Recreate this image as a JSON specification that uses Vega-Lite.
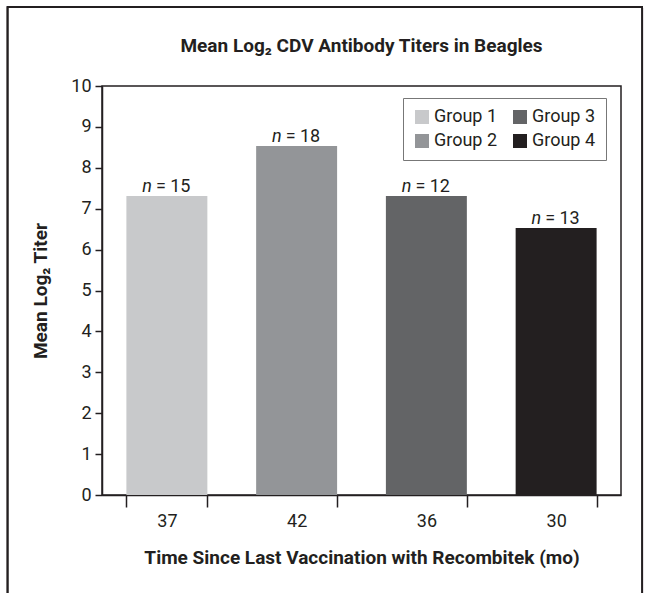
{
  "$schema": "https://vega.github.io/schema/vega-lite/v6.json",
  "width": 519,
  "height": 409,
  "autosize": {"type": "none"},
  "padding": {"left": 102, "top": 86, "right": 28, "bottom": 98},
  "background": "white",
  "config": {
    "font": "Roboto",
    "view": {"stroke": "#231f20", "strokeWidth": 1.5},
    "axis": {"domainColor": "#231f20", "tickColor": "#231f20", "domainWidth": 1.5, "tickWidth": 1.5, "labelColor": "#231f20", "titleColor": "#231f20", "labelFont": "Roboto", "titleFont": "Roboto", "grid": false}
  },
  "title": {
    "text": "Mean Log₂ CDV Antibody Titers in Beagles",
    "font": "Roboto",
    "fontSize": 19,
    "fontWeight": "bold",
    "color": "#231f20",
    "anchor": "middle",
    "frame": "group",
    "offset": -50
  },
  "data": {
    "values": [
      {"time": "37", "group": "Group 1", "titer": 7.31, "n": "= 15"},
      {"time": "42", "group": "Group 2", "titer": 8.53, "n": "= 18"},
      {"time": "36", "group": "Group 3", "titer": 7.31, "n": "= 12"},
      {"time": "30", "group": "Group 4", "titer": 6.53, "n": "= 13"}
    ]
  },
  "resolve": {"scale": {"x": "independent", "y": "shared"}},
  "layer": [
    {
      "mark": {"type": "rect", "fill": null, "filled": false, "stroke": "#231f20", "strokeWidth": 1.5, "clip": false},
      "encoding": {
        "x": {"datum": -0.182, "type": "quantitative", "scale": {"domain": [0, 1], "nice": false, "zero": false}, "axis": null},
        "x2": {"datum": 1.041},
        "y": {"datum": 11.93, "type": "quantitative"},
        "y2": {"datum": -2.7}
      }
    },
    {
      "encoding": {
        "x": {
          "field": "time",
          "type": "nominal",
          "sort": null,
          "scale": {"paddingInner": 0.376, "paddingOuter": 0.188},
          "axis": {
            "title": "Time Since Last Vaccination with Recombitek (mo)",
            "titleFontSize": 19,
            "titleFontWeight": "bold",
            "titlePadding": 18,
            "labelFontSize": 18,
            "labelAngle": 0,
            "labelPadding": 5,
            "tickSize": 12,
            "tickBand": "extent"
          }
        },
        "y": {
          "field": "titer",
          "type": "quantitative",
          "scale": {"domain": [0, 10], "nice": false},
          "axis": {
            "title": "Mean Log₂ Titer",
            "titleFontSize": 19,
            "titleFontWeight": "bold",
            "titlePadding": 20,
            "labelFontSize": 18,
            "labelPadding": 4,
            "tickSize": 7,
            "values": [0, 1, 2, 3, 4, 5, 6, 7, 8, 9, 10]
          }
        }
      },
      "layer": [
        {
          "mark": {"type": "bar"},
          "encoding": {
            "color": {
              "field": "group",
              "type": "nominal",
              "scale": {
                "domain": ["Group 1", "Group 2", "Group 3", "Group 4"],
                "range": ["#c8c9cb", "#939598", "#636466", "#231f20"]
              },
              "legend": {
                "title": null,
                "orient": "none",
                "legendX": 301,
                "legendY": 12,
                "columns": 2,
                "padding": 10,
                "strokeColor": "#777777",
                "fillColor": "white",
                "symbolType": "square",
                "symbolSize": 196,
                "symbolStrokeWidth": 0,
                "symbolOpacity": 1,
                "labelFontSize": 18,
                "labelFont": "Roboto",
                "labelColor": "#231f20",
                "labelOffset": 3,
                "rowPadding": 6,
                "columnPadding": 13
              }
            }
          }
        },
        {
          "mark": {"type": "text", "align": "right", "baseline": "alphabetic", "dx": -15, "dy": -4, "fontSize": 18, "fontStyle": "italic", "color": "#231f20", "font": "Roboto"},
          "encoding": {"text": {"value": "n"}}
        },
        {
          "mark": {"type": "text", "align": "left", "baseline": "alphabetic", "dx": -11, "dy": -4, "fontSize": 18, "color": "#231f20", "font": "Roboto"},
          "encoding": {"text": {"field": "n"}}
        }
      ]
    }
  ]
}
